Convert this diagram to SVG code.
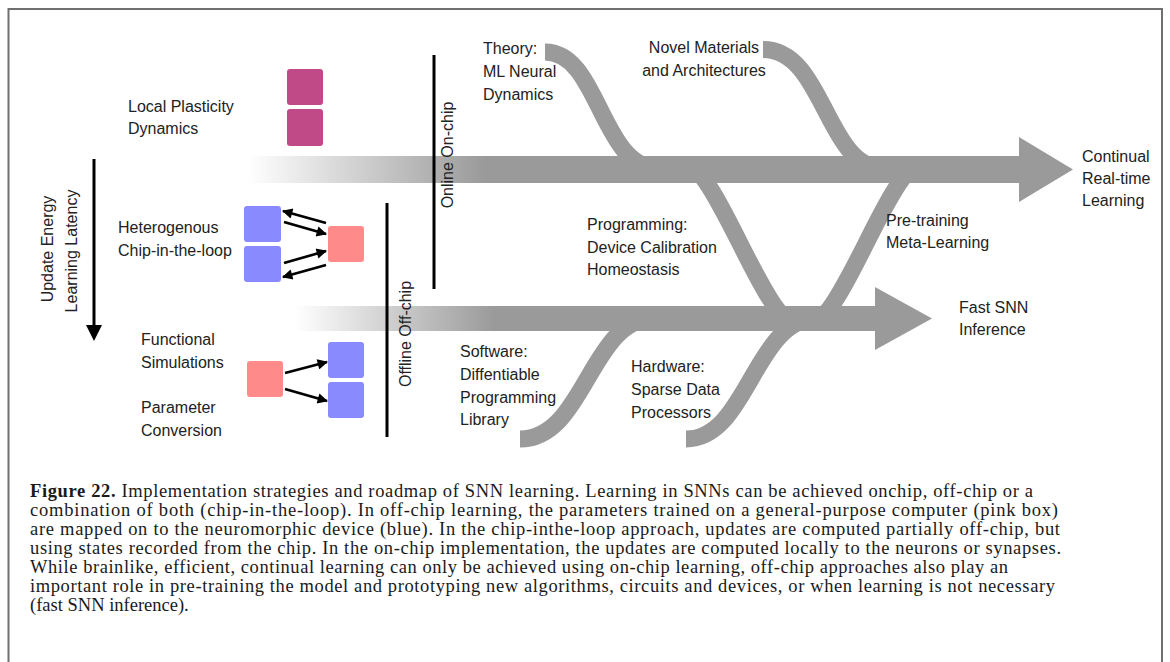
<svg xmlns="http://www.w3.org/2000/svg" width="1170" height="662" viewBox="0 0 1170 662">
<defs>
<style>
.lbl{font-family:"Liberation Sans",Arial,sans-serif;font-size:16px;fill:#222}
.cap{font-family:"Liberation Serif","Times New Roman",serif;font-size:18.5px;fill:#1a1a1a}
.curve{fill:none;stroke:#9a9a9a;stroke-width:17}
.ar{stroke:#000;stroke-width:2.6;fill:none;marker-end:url(#ah)}
.vl{stroke:#000;stroke-width:3}
.blue{fill:#8a8aff}
.pink{fill:#ff8a8a}
.mag{fill:#c04a88}
</style>
<linearGradient id="g1" gradientUnits="userSpaceOnUse" x1="248" y1="0" x2="485" y2="0">
<stop offset="0" stop-color="#fff"/><stop offset="1" stop-color="#9a9a9a"/>
</linearGradient>
<linearGradient id="g2" gradientUnits="userSpaceOnUse" x1="295" y1="0" x2="495" y2="0">
<stop offset="0" stop-color="#fff"/><stop offset="1" stop-color="#9a9a9a"/>
</linearGradient>
<marker id="ah" viewBox="0 0 10 10" refX="9" refY="5" markerWidth="4.4" markerHeight="4" orient="auto">
<path d="M0,0 L10,5 L0,10 z" fill="#000"/>
</marker>
</defs>
<rect width="1170" height="662" fill="#fff"/>
<g id="frame" stroke="#707070" stroke-width="2" fill="none">
<path d="M8.5,662 V9 H1162 V662"/>
</g>

<g id="flows">
<path class="curve" d="M545,52 C600,52 600,169 660,169"/>
<path class="curve" d="M763,49.5 C825,49.5 825,169 885,169"/>
<path class="curve" d="M690,169 C715,169 765,318 790,318"/>
<path class="curve" d="M816,318 C841,318 891,169 916,169"/>
<path class="curve" d="M520,439 C585,439 590,318 655,318"/>
<path class="curve" d="M686,439 C748,439 754,318 818,318"/>
<path id="online-arrow" d="M248,156 H1019 V137 L1073,169.5 L1019,202 V183 H248 Z" fill="url(#g1)"/>
<path id="offline-arrow" d="M295,306 H875 V287 L932,318.5 L875,350 V331 H295 Z" fill="url(#g2)"/>
</g>

<g id="dividers">
<line class="vl" x1="434" y1="55" x2="434" y2="289"/>
<line class="vl" x1="387" y1="203" x2="387" y2="437"/>
<line x1="94" y1="159" x2="94" y2="328" stroke="#000" stroke-width="3"/>
<path d="M86,325 L102,325 L94,341 Z" fill="#000"/>
</g>

<g id="local-plasticity">
<rect class="mag" x="287" y="69" width="36" height="36" rx="3"/>
<rect class="mag" x="287" y="109" width="36" height="37" rx="3"/>
<text class="lbl" x="128" y="112">Local Plasticity</text>
<text class="lbl" x="128" y="134">Dynamics</text>
</g>

<g id="chip-in-the-loop">
<rect class="blue" x="244" y="206" width="37" height="36" rx="3"/>
<rect class="blue" x="244" y="246" width="37" height="36" rx="3"/>
<rect class="pink" x="328" y="226" width="36" height="36" rx="3"/>
<text class="lbl" x="118" y="233">Heterogenous</text>
<text class="lbl" x="118" y="256">Chip-in-the-loop</text>
</g>

<g id="functional-simulation">
<rect class="pink" x="247" y="361" width="36" height="36" rx="3"/>
<rect class="blue" x="328" y="342" width="36" height="36" rx="3"/>
<rect class="blue" x="328" y="382" width="36" height="36" rx="3"/>
<text class="lbl" x="141" y="345">Functional</text>
<text class="lbl" x="141" y="368">Simulations</text>
<text class="lbl" x="141" y="413">Parameter</text>
<text class="lbl" x="141" y="436">Conversion</text>
</g>

<g id="connectors">
<line class="ar" x1="326" y1="223" x2="283" y2="211"/>
<line class="ar" x1="284" y1="222" x2="326" y2="234"/>
<line class="ar" x1="284" y1="263" x2="326" y2="251"/>
<line class="ar" x1="326" y1="265" x2="283" y2="277"/>
<line class="ar" x1="285" y1="373" x2="327" y2="362"/>
<line class="ar" x1="285" y1="389" x2="327" y2="401"/>
</g>

<g id="axis-labels">
<text class="lbl" text-anchor="middle" transform="translate(53,249) rotate(-90)">Update Energy</text>
<text class="lbl" text-anchor="middle" transform="translate(77,251) rotate(-90)">Learning Latency</text>
<text class="lbl" text-anchor="middle" transform="translate(453,155) rotate(-90)">Online On-chip</text>
<text class="lbl" text-anchor="middle" transform="translate(411,334) rotate(-90)">Offline Off-chip</text>
</g>

<g id="theory">
<text class="lbl" x="483" y="54">Theory:</text>
<text class="lbl" x="483" y="77">ML Neural</text>
<text class="lbl" x="483" y="100">Dynamics</text>
</g>
<g id="materials">
<text class="lbl" x="704" y="53" text-anchor="middle">Novel Materials</text>
<text class="lbl" x="704" y="76" text-anchor="middle">and Architectures</text>
</g>
<g id="programming">
<text class="lbl" x="587" y="230">Programming:</text>
<text class="lbl" x="587" y="253">Device Calibration</text>
<text class="lbl" x="587" y="275">Homeostasis</text>
</g>
<g id="software">
<text class="lbl" x="460" y="357">Software:</text>
<text class="lbl" x="460" y="380">Diffentiable</text>
<text class="lbl" x="460" y="403">Programming</text>
<text class="lbl" x="460" y="425">Library</text>
</g>
<g id="hardware">
<text class="lbl" x="631" y="372">Hardware:</text>
<text class="lbl" x="631" y="395">Sparse Data</text>
<text class="lbl" x="631" y="418">Processors</text>
</g>
<g id="pretraining">
<text class="lbl" x="886" y="226">Pre-training</text>
<text class="lbl" x="886" y="248">Meta-Learning</text>
</g>
<g id="continual">
<text class="lbl" x="1082" y="162">Continual</text>
<text class="lbl" x="1082" y="184">Real-time</text>
<text class="lbl" x="1082" y="206">Learning</text>
</g>
<g id="fast-inference">
<text class="lbl" x="959" y="313">Fast SNN</text>
<text class="lbl" x="959" y="335">Inference</text>
</g>

<g id="caption">
<text class="cap" x="30" y="497" textLength="1003" lengthAdjust="spacing"><tspan font-weight="bold">Figure 22.</tspan>  Implementation strategies and roadmap of SNN learning. Learning in SNNs can be achieved onchip, off-chip or a</text>
<text class="cap" x="30" y="516" textLength="1028" lengthAdjust="spacing">combination of both (chip-in-the-loop). In off-chip learning, the parameters trained on a general-purpose computer (pink box)</text>
<text class="cap" x="30" y="535" textLength="1030" lengthAdjust="spacing">are mapped on to the neuromorphic device (blue). In the chip-inthe-loop approach, updates are computed partially off-chip, but</text>
<text class="cap" x="30" y="554" textLength="1031" lengthAdjust="spacing">using states recorded from the chip. In the on-chip implementation, the updates are computed locally to the neurons or synapses.</text>
<text class="cap" x="30" y="573" textLength="978" lengthAdjust="spacing">While brainlike, efficient, continual learning can only be achieved using on-chip learning, off-chip approaches also play an</text>
<text class="cap" x="30" y="592" textLength="1025" lengthAdjust="spacing">important role in pre-training the model and prototyping new algorithms, circuits and devices, or when learning is not necessary</text>
<text class="cap" x="30" y="611">(fast SNN inference).</text>
</g>
</svg>
